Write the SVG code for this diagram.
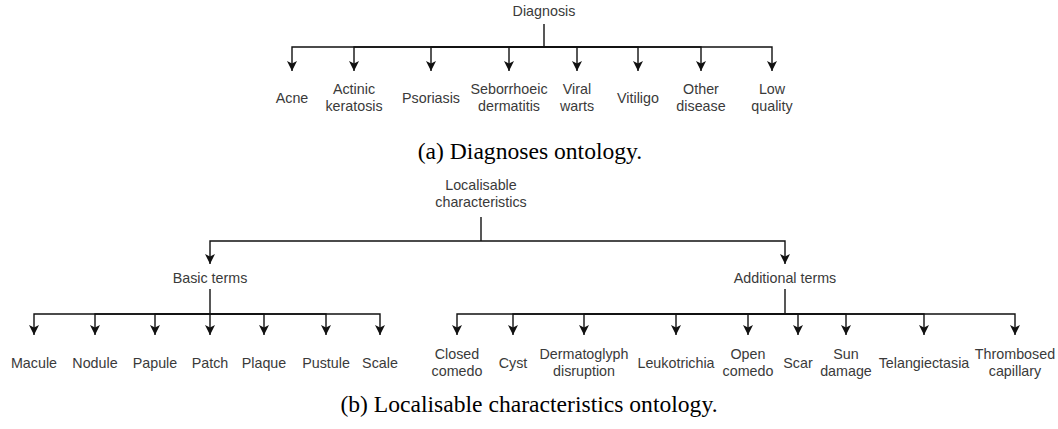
<svg xmlns="http://www.w3.org/2000/svg" width="1058" height="429" viewBox="0 0 1058 429">
<style>
.lbl{font-family:"Liberation Sans",Arial,sans-serif;font-size:14.3px;fill:#3a3a3a;text-anchor:middle}
.cap{font-family:"Liberation Serif","Times New Roman",serif;font-size:23.6px;fill:#000;text-anchor:middle}
.edge{fill:none;stroke:#111;stroke-width:1.4;marker-end:url(#arr)}
.line{fill:none;stroke:#111;stroke-width:1.4}
</style>
<defs>
<marker id="arr" viewBox="0 0 10 10" refX="10" refY="5" markerWidth="10" markerHeight="10" markerUnits="userSpaceOnUse" orient="auto">
<path d="M0,0 L10,5 L0,10 L2.5,5 z" fill="#111"/>
</marker>
</defs>
<rect width="1058" height="429" fill="#fff"/>
<g id="connectors">
<path class="line" d="M544,24 V47"/>
<path class="edge" d="M544,47 H292 V71"/>
<path class="edge" d="M544,47 H354 V71"/>
<path class="edge" d="M544,47 H431 V71"/>
<path class="edge" d="M544,47 H509 V71"/>
<path class="edge" d="M544,47 H577 V71"/>
<path class="edge" d="M544,47 H638 V71"/>
<path class="edge" d="M544,47 H701 V71"/>
<path class="edge" d="M544,47 H772 V71"/>
<path class="line" d="M481,217 V241"/>
<path class="edge" d="M481,241 H210 V264"/>
<path class="edge" d="M481,241 H785 V264"/>
<path class="line" d="M210,289 V314"/>
<path class="edge" d="M210,314 H34 V335"/>
<path class="edge" d="M210,314 H95 V335"/>
<path class="edge" d="M210,314 H155 V335"/>
<path class="edge" d="M210,314 V335"/>
<path class="edge" d="M210,314 H264 V335"/>
<path class="edge" d="M210,314 H326 V335"/>
<path class="edge" d="M210,314 H380 V335"/>
<path class="line" d="M785,289 V314"/>
<path class="edge" d="M785,314 H457 V335"/>
<path class="edge" d="M785,314 H513 V335"/>
<path class="edge" d="M785,314 H584 V335"/>
<path class="edge" d="M785,314 H676 V335"/>
<path class="edge" d="M785,314 H748 V335"/>
<path class="edge" d="M785,314 H798 V335"/>
<path class="edge" d="M785,314 H846 V335"/>
<path class="edge" d="M785,314 H924 V335"/>
<path class="edge" d="M785,314 H1015 V335"/>
</g>
<g id="diagnosis"><text class="lbl" x="544" y="16">Diagnosis</text></g>
<g id="acne"><text class="lbl" x="292" y="103">Acne</text></g>
<g id="actinic"><text class="lbl" x="354" y="94">Actinic</text><text class="lbl" x="354" y="111">keratosis</text></g>
<g id="psoriasis"><text class="lbl" x="431" y="103">Psoriasis</text></g>
<g id="seborrhoeic"><text class="lbl" x="509" y="94">Seborrhoeic</text><text class="lbl" x="509" y="111">dermatitis</text></g>
<g id="viral"><text class="lbl" x="577" y="94">Viral</text><text class="lbl" x="577" y="111">warts</text></g>
<g id="vitiligo"><text class="lbl" x="638" y="103">Vitiligo</text></g>
<g id="other"><text class="lbl" x="701" y="94">Other</text><text class="lbl" x="701" y="111">disease</text></g>
<g id="lowquality"><text class="lbl" x="772" y="94">Low</text><text class="lbl" x="772" y="111">quality</text></g>
<g id="caption-a"><text class="cap" x="530" y="159">(a) Diagnoses ontology.</text></g>
<g id="localisable"><text class="lbl" x="481" y="190">Localisable</text><text class="lbl" x="481" y="207">characteristics</text></g>
<g id="basic"><text class="lbl" x="210" y="283">Basic terms</text></g>
<g id="additional"><text class="lbl" x="785" y="283">Additional terms</text></g>
<g id="macule"><text class="lbl" x="34" y="368">Macule</text></g>
<g id="nodule"><text class="lbl" x="95" y="368">Nodule</text></g>
<g id="papule"><text class="lbl" x="155" y="368">Papule</text></g>
<g id="patch"><text class="lbl" x="210" y="368">Patch</text></g>
<g id="plaque"><text class="lbl" x="264" y="368">Plaque</text></g>
<g id="pustule"><text class="lbl" x="326" y="368">Pustule</text></g>
<g id="scale"><text class="lbl" x="380" y="368">Scale</text></g>
<g id="closedcomedo"><text class="lbl" x="457" y="359">Closed</text><text class="lbl" x="457" y="376">comedo</text></g>
<g id="cyst"><text class="lbl" x="513" y="368">Cyst</text></g>
<g id="dermatoglyph"><text class="lbl" x="584" y="359">Dermatoglyph</text><text class="lbl" x="584" y="376">disruption</text></g>
<g id="leukotrichia"><text class="lbl" x="676" y="368">Leukotrichia</text></g>
<g id="opencomedo"><text class="lbl" x="748" y="359">Open</text><text class="lbl" x="748" y="376">comedo</text></g>
<g id="scar"><text class="lbl" x="798" y="368">Scar</text></g>
<g id="sundamage"><text class="lbl" x="846" y="359">Sun</text><text class="lbl" x="846" y="376">damage</text></g>
<g id="telangiectasia"><text class="lbl" x="924" y="368">Telangiectasia</text></g>
<g id="thrombosed"><text class="lbl" x="1015" y="359">Thrombosed</text><text class="lbl" x="1015" y="376">capillary</text></g>
<g id="caption-b"><text class="cap" x="529" y="412">(b) Localisable characteristics ontology.</text></g>
</svg>
